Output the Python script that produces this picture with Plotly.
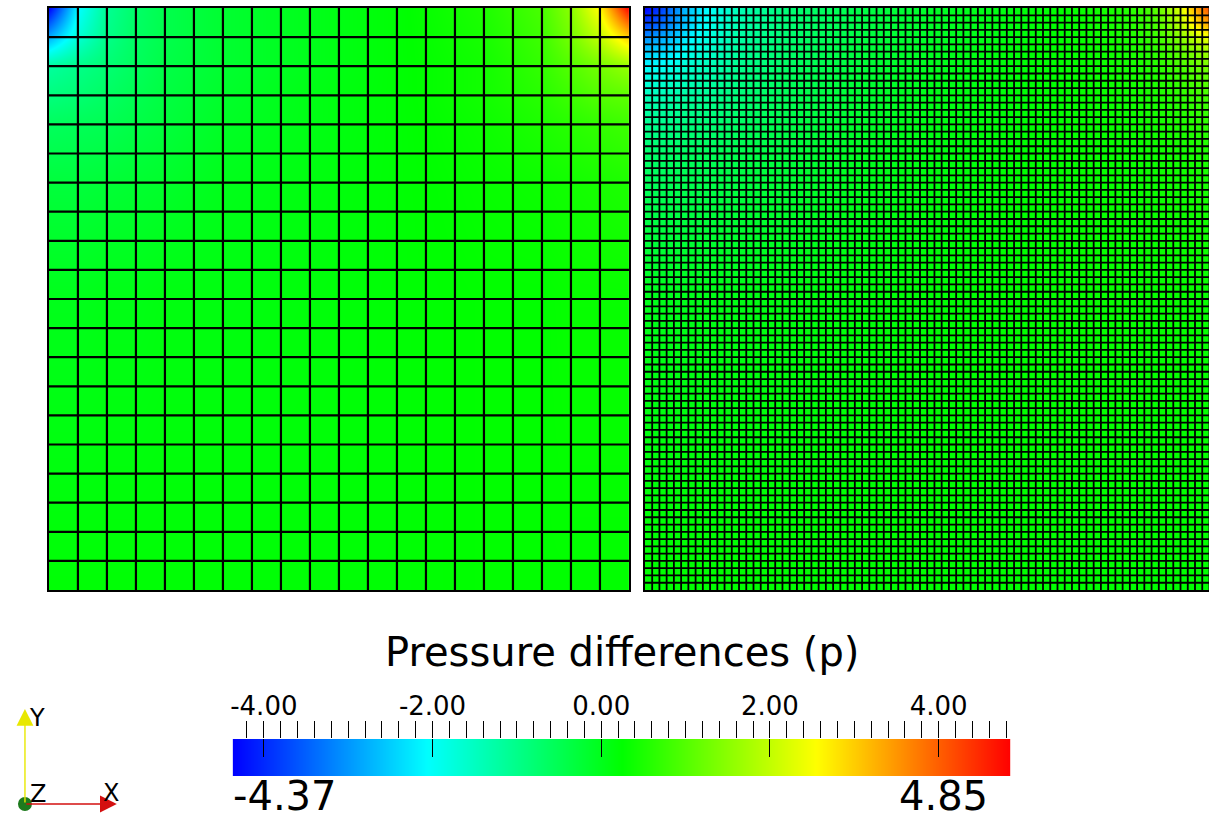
import plotly.graph_objects as go

W, H = 1209, 821

# ---------------- data ----------------
P_MIN, P_MAX = -4.37, 4.85
CBAR_TITLE = "Pressure differences (p)"
CBAR_MAJOR = [-4.0, -2.0, 0.0, 2.0, 4.0]
CBAR_MINOR_STEP = 0.2

COARSE_N = 20   # 20 x 20 mesh (left)
FINE_N = 80     # 80 x 80 mesh (right)

# left mesh: pressure read at mesh nodes (x to the right, y downward from the lid)
coarse_x_nodes = [0, 1, 2, 3, 4, 6, 9, 12, 15, 17, 18, 19, 20]
coarse_y_nodes = [0, 1, 2, 3, 4, 6, 10, 20]
coarse_p = [
    [-4.37, -2.1, -1.1, -0.7, -0.45, -0.2, 0.0, 0.2, 0.5, 0.9, 1.5, 2.6, 4.85],
    [-2.8, -1.7, -1.0, -0.65, -0.45, -0.2, 0.0, 0.2, 0.45, 0.8, 1.3, 2.0, 3.0],
    [-1.2, -1.0, -0.8, -0.6, -0.4, -0.2, 0.0, 0.2, 0.4, 0.7, 1.0, 1.3, 1.6],
    [-0.9, -0.8, -0.65, -0.5, -0.35, -0.15, 0.05, 0.2, 0.4, 0.6, 0.8, 1.0, 1.1],
    [-0.6, -0.55, -0.5, -0.4, -0.3, -0.1, 0.05, 0.2, 0.35, 0.5, 0.6, 0.7, 0.8],
    [-0.3, -0.3, -0.25, -0.2, -0.15, 0.0, 0.1, 0.2, 0.3, 0.35, 0.4, 0.45, 0.5],
    [0.0, 0.0, 0.05, 0.05, 0.1, 0.1, 0.15, 0.2, 0.25, 0.25, 0.3, 0.3, 0.3],
    [0.2, 0.2, 0.2, 0.2, 0.2, 0.2, 0.2, 0.2, 0.25, 0.25, 0.25, 0.25, 0.25],
]

# right mesh: pressure read at selected nodes
fine_x_nodes = [0, 2, 4, 6, 9, 13, 20, 30, 40, 50, 60, 66, 70, 72, 74, 76, 78, 80]
fine_y_nodes = [0, 2, 4, 6, 9, 13, 20, 40, 80]
fine_p = [
    [-4.37, -3.9, -3.2, -2.6, -2.0, -1.4, -0.8, -0.4, -0.1, 0.1, 0.3, 0.5, 0.9, 1.5, 2.3, 3.3, 4.2, 4.85],
    [-3.8, -3.5, -3.0, -2.5, -1.9, -1.35, -0.8, -0.4, -0.1, 0.1, 0.3, 0.5, 0.8, 1.3, 2.0, 2.8, 3.5, 4.0],
    [-3.1, -2.9, -2.6, -2.2, -1.75, -1.25, -0.75, -0.35, -0.1, 0.1, 0.3, 0.45, 0.7, 1.0, 1.5, 2.0, 2.5, 2.9],
    [-2.5, -2.4, -2.2, -1.9, -1.6, -1.15, -0.7, -0.3, -0.05, 0.15, 0.3, 0.4, 0.6, 0.8, 1.1, 1.4, 1.7, 2.0],
    [-1.9, -1.85, -1.7, -1.55, -1.35, -1.0, -0.6, -0.25, 0.0, 0.15, 0.3, 0.4, 0.5, 0.65, 0.8, 1.0, 1.2, 1.4],
    [-1.3, -1.3, -1.2, -1.1, -1.0, -0.8, -0.5, -0.2, 0.05, 0.15, 0.3, 0.35, 0.45, 0.5, 0.6, 0.7, 0.8, 0.9],
    [-0.7, -0.7, -0.65, -0.6, -0.55, -0.45, -0.3, -0.05, 0.1, 0.2, 0.3, 0.3, 0.35, 0.4, 0.4, 0.45, 0.5, 0.5],
    [0.0, 0.0, 0.0, 0.0, 0.05, 0.05, 0.1, 0.15, 0.2, 0.25, 0.3, 0.3, 0.3, 0.3, 0.3, 0.3, 0.3, 0.3],
    [0.25, 0.25, 0.25, 0.25, 0.25, 0.25, 0.25, 0.25, 0.25, 0.25, 0.25, 0.25, 0.25, 0.25, 0.25, 0.25, 0.25, 0.25],
]

# ---------------- style ----------------
COLORSCALE = [
    [0.0, "rgb(0,0,255)"],
    [0.25, "rgb(0,255,255)"],
    [0.5, "rgb(0,255,0)"],
    [0.75, "rgb(255,255,0)"],
    [1.0, "rgb(255,0,0)"],
]
FONT = "DejaVu Sans"


def px(x):
    return x / W


def py(y):
    return 1 - y / H


def mesh_lines(n):
    xs, ys = [], []
    for i in range(1, n):
        xs += [i, i, None]
        ys += [0, n, None]
    for j in range(1, n):
        xs += [0, n, None]
        ys += [j, j, None]
    return xs, ys


fig = go.Figure()

common_hm = dict(colorscale=COLORSCALE, zmin=P_MIN, zmax=P_MAX, zsmooth="best",
                 showscale=False, hoverinfo="skip")

fig.add_trace(go.Heatmap(x=coarse_x_nodes, y=coarse_y_nodes, z=coarse_p,
                         xaxis="x", yaxis="y", **common_hm))
gx, gy = mesh_lines(COARSE_N)
fig.add_trace(go.Scatter(x=gx, y=gy, mode="lines", line=dict(color="black", width=2.2),
                         xaxis="x", yaxis="y", hoverinfo="skip", showlegend=False))

fig.add_trace(go.Heatmap(x=fine_x_nodes, y=fine_y_nodes, z=fine_p,
                         xaxis="x2", yaxis="y2", **common_hm))
fx, fy = mesh_lines(FINE_N)
fig.add_trace(go.Scatter(x=fx, y=fy, mode="lines", line=dict(color="black", width=1.8),
                         xaxis="x2", yaxis="y2", hoverinfo="skip", showlegend=False))

# color bar drawn as a heatmap strip
fig.add_trace(go.Heatmap(x=[P_MIN, P_MAX], y=[0], z=[[P_MIN, P_MAX]],
                         xaxis="x3", yaxis="y3", **common_hm))
# invisible companion trace so the overlay axis (long major ticks) gets drawn
fig.add_trace(go.Scatter(x=[P_MIN, P_MAX], y=[0, 0], mode="markers",
                         marker=dict(opacity=0, size=1), xaxis="x4", yaxis="y3",
                         hoverinfo="skip", showlegend=False))

panel_top, panel_bot = 8, 590
fine_cell_px = (628 - 47) / FINE_N
fine_visible = (W - 643) / fine_cell_px

hidden = dict(showgrid=False, zeroline=False, showticklabels=False, ticks="")
border = dict(showline=True, linecolor="black", linewidth=2)

fig.update_layout(
    width=W, height=H,
    margin=dict(l=0, r=0, t=0, b=0),
    paper_bgcolor="white", plot_bgcolor="rgba(0,0,0,0)",
    showlegend=False,
    xaxis=dict(domain=[px(47), px(628)], range=[0, COARSE_N], anchor="y",
               mirror=True, **hidden, **border),
    yaxis=dict(domain=[py(panel_bot), py(panel_top)], range=[COARSE_N, 0], anchor="x",
               mirror=True, **hidden, **border),
    xaxis2=dict(domain=[px(644), 1], range=[0, fine_visible], anchor="y2",
                mirror=True, **hidden, **border),
    yaxis2=dict(domain=[py(panel_bot), py(panel_top)], range=[FINE_N, 0], anchor="x2",
                **hidden, **border),
    xaxis3=dict(domain=[px(231), px(1010)], range=[P_MIN, P_MAX], anchor="y3",
                side="top", showgrid=False, zeroline=False, showline=False,
                tickmode="array", tickvals=CBAR_MAJOR,
                ticktext=["%.2f" % v for v in CBAR_MAJOR],
                ticks="outside", ticklen=17, tickwidth=1, tickcolor="black",
                ticklabelstandoff=-4,
                tickfont=dict(family=FONT, size=26, color="black"),
                minor=dict(dtick=CBAR_MINOR_STEP, tick0=0, ticks="outside",
                           ticklen=17, tickwidth=1, tickcolor="black", showgrid=False)),
    xaxis4=dict(overlaying="x3", range=[P_MIN, P_MAX], anchor="y3", side="top",
                showgrid=False, zeroline=False, showline=False, showticklabels=False,
                tickmode="array", tickvals=CBAR_MAJOR, ticks="inside", ticklen=18,
                tickwidth=1.2, tickcolor="black", layer="above traces"),
    yaxis3=dict(domain=[py(776), py(739)], range=[-0.5, 0.5], anchor="x3", visible=False),
)

ann = []
ann.append(dict(text=CBAR_TITLE, x=px(621), y=py(652), xref="paper", yref="paper",
                xanchor="center", yanchor="middle", showarrow=False,
                font=dict(family=FONT, size=40, color="black")))
ann.append(dict(text="%.2f" % P_MIN, x=px(229), y=0, xref="paper", yref="paper",
                xanchor="left", yanchor="bottom", showarrow=False,
                font=dict(family=FONT, size=40, color="black")))
ann.append(dict(text="%.2f" % P_MAX, x=px(990), y=0, xref="paper", yref="paper",
                xanchor="right", yanchor="bottom", showarrow=False,
                font=dict(family=FONT, size=40, color="black")))

# orientation triad
ann.append(dict(text="", x=px(23), y=py(709), xref="paper", yref="paper",
                ax=0, ay=95, showarrow=True, arrowhead=2, arrowsize=2.4, arrowwidth=1.4,
                arrowcolor="#e8e800"))
ann.append(dict(text="", x=px(115), y=py(804), xref="paper", yref="paper",
                ax=-92, ay=0, showarrow=True, arrowhead=2, arrowsize=2.4, arrowwidth=1.4,
                arrowcolor="#d41010"))
for t, x, y in [("Y", 35, 718), ("Z", 36, 794), ("X", 109, 793)]:
    ann.append(dict(text=t, x=px(x), y=py(y), xref="paper", yref="paper",
                    xanchor="center", yanchor="middle", showarrow=False,
                    font=dict(family=FONT, size=24, color="black")))
fig.update_layout(annotations=ann)

fig.add_shape(type="circle", xref="paper", yref="paper",
              x0=px(16), x1=px(30), y0=py(811), y1=py(797),
              fillcolor="#1d7a1d", line=dict(color="#1d7a1d", width=0))

fig.write_html("out.html")
